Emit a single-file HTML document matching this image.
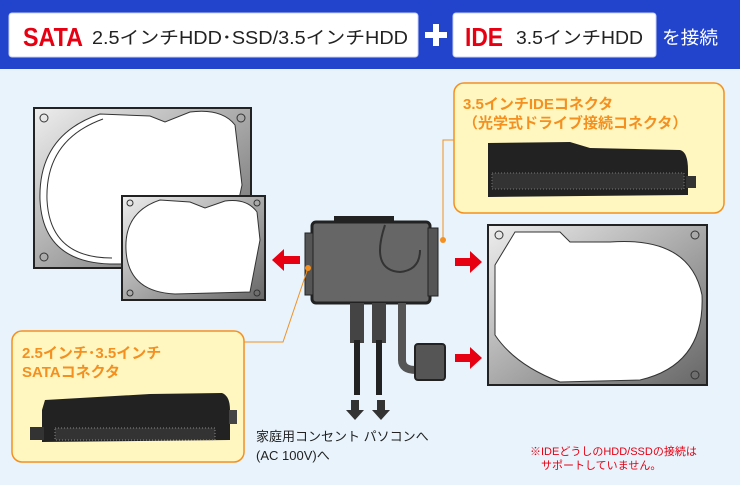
<!DOCTYPE html>
<html><head><meta charset="utf-8"><style>
body{margin:0;width:740px;height:485px;overflow:hidden;background:#e8f3fc;font-family:"Liberation Sans","Noto Sans CJK JP",sans-serif}
</style></head><body>
<svg width="740" height="485" xmlns="http://www.w3.org/2000/svg" style="display:block">
<defs>
<linearGradient id="g" x1="0" y1="0" x2="1" y2="1"><stop offset="0" stop-color="#eee"/><stop offset="0.5" stop-color="#aaa"/><stop offset="1" stop-color="#666"/></linearGradient>
</defs>
<rect x="0" y="0" width="740" height="485" fill="#e8f3fc"/>
<rect x="0" y="0" width="740" height="69" fill="#2244cc"/>
<rect x="9" y="13" width="409" height="44" rx="3" fill="#fff" stroke="#c8d0f0"/>
<text x="23" y="46" font-size="26" font-weight="bold" fill="#e60012" textLength="60" lengthAdjust="spacingAndGlyphs">SATA</text>
<text x="92" y="44" font-size="18" fill="#222" textLength="316" lengthAdjust="spacingAndGlyphs">2.5インチHDD･SSD/3.5インチHDD</text>
<rect x="425" y="32" width="22" height="6" fill="#fff"/><rect x="433" y="24" width="6" height="22" fill="#fff"/>
<rect x="453" y="13" width="203" height="44" rx="3" fill="#fff" stroke="#c8d0f0"/>
<text x="465" y="46" font-size="26" font-weight="bold" fill="#e60012" textLength="38" lengthAdjust="spacingAndGlyphs">IDE</text>
<text x="516" y="44" font-size="18" fill="#222" textLength="127" lengthAdjust="spacingAndGlyphs">3.5インチHDD</text>
<text x="662" y="44" font-size="18" fill="#fff" textLength="56" lengthAdjust="spacingAndGlyphs">を接続</text>
<!-- big HDD left -->
<rect x="34" y="108" width="217" height="160" fill="url(#g)" stroke="#222" stroke-width="2"/>
<path d="M100 114 Q38 135 40 200 Q43 262 110 264 L225 264 L242 185 L235 125 Q222 108 190 112 L165 122 L150 116 Z" fill="#fff" stroke="#333"/>
<path d="M103 119 Q45 140 47 200 Q50 258 112 258" fill="none" stroke="#333"/>
<circle cx="44" cy="118" r="4" fill="none" stroke="#333"/><circle cx="241" cy="118" r="4" fill="none" stroke="#333"/><circle cx="44" cy="257" r="4" fill="none" stroke="#333"/>
<!-- small HDD -->
<rect x="122" y="196" width="143" height="104" fill="url(#g)" stroke="#222" stroke-width="2"/>
<path d="M160 200 Q124 212 126 250 Q128 292 175 294 L250 292 L260 240 L257 212 Q247 198 225 201 L205 208 L190 202 Z" fill="#fff" stroke="#333"/>
<circle cx="130" cy="203" r="3" fill="none" stroke="#333"/><circle cx="257" cy="203" r="3" fill="none" stroke="#333"/><circle cx="130" cy="293" r="3" fill="none" stroke="#333"/><circle cx="257" cy="293" r="3" fill="none" stroke="#333"/>
<!-- right HDD -->
<rect x="488" y="225" width="219" height="160" fill="url(#g)" stroke="#222" stroke-width="2"/>
<path d="M515 232 L560 232 L570 242 L610 242 Q690 236 702 295 Q705 365 640 380 L560 382 Q515 365 495 335 L495 265 Z" fill="#fff" stroke="#333"/>
<circle cx="499" cy="235" r="4" fill="none" stroke="#333"/><circle cx="695" cy="235" r="4" fill="none" stroke="#333"/><circle cx="695" cy="375" r="4" fill="none" stroke="#333"/>
<!-- arrows -->
<polygon points="272,260 284,249 284,256 300,256 300,264 284,264 284,271" fill="#e60012"/>
<polygon points="482,262 470,251 470,258 455,258 455,266 470,266 470,273" fill="#e60012"/>
<polygon points="482,358 470,347 470,354 455,354 455,362 470,362 470,369" fill="#e60012"/>
<polygon points="355,420 346,410 351,410 351,400 359,400 359,410 364,410" fill="#333"/>
<polygon points="381,420 372,410 377,410 377,400 385,400 385,410 390,410" fill="#333"/>
<!-- adapter -->
<rect x="334" y="216" width="60" height="8" fill="#222"/>
<rect x="312" y="222" width="118" height="81" rx="4" fill="#666" stroke="#222" stroke-width="3"/>
<rect x="428" y="228" width="10" height="68" fill="#555" stroke="#222"/>
<rect x="305" y="233" width="8" height="62" fill="#555" stroke="#222"/>
<path d="M385 225 Q370 270 400 272 Q420 270 420 250" fill="none" stroke="#333" stroke-width="2"/>
<rect x="350" y="303" width="14" height="40" fill="#444"/><rect x="372" y="303" width="14" height="40" fill="#444"/>
<rect x="354" y="340" width="6" height="55" fill="#222"/><rect x="376" y="340" width="6" height="55" fill="#222"/>
<path d="M402 303 L402 360 Q402 370 416 370" fill="none" stroke="#555" stroke-width="8"/>
<rect x="415" y="344" width="30" height="36" rx="3" fill="#555" stroke="#222" stroke-width="2"/>
<!-- leader lines -->
<polyline points="443,240 443,140 455,140" fill="none" stroke="#f39020"/>
<circle cx="443" cy="240" r="3" fill="#f39020"/>
<polyline points="308,268 283,342 244,342" fill="none" stroke="#f39020"/>
<circle cx="308" cy="268" r="3" fill="#f39020"/>
<!-- yellow boxes -->
<rect x="454" y="83" width="270" height="130" rx="10" fill="#fff6c0" stroke="#f39020" stroke-width="1.5"/>
<text x="463" y="109" font-size="15" font-weight="bold" fill="#f39020">3.5インチIDEコネクタ</text>
<text x="463" y="128" font-size="15" font-weight="bold" fill="#f39020">（光学式ドライブ接続コネクタ）</text>
<path d="M488 143 L570 142 L590 148 L680 150 Q688 152 688 170 L688 195 L488 197 Z" fill="#222"/>
<rect x="492" y="173" width="192" height="16" fill="#333" stroke="#777" stroke-dasharray="1 2"/>
<rect x="686" y="176" width="10" height="12" fill="#333"/>
<rect x="12" y="331" width="232" height="131" rx="10" fill="#fff6c0" stroke="#f39020" stroke-width="1.5"/>
<text x="22" y="358" font-size="15" font-weight="bold" fill="#f39020">2.5インチ･3.5インチ</text>
<text x="22" y="377" font-size="15" font-weight="bold" fill="#f39020">SATAコネクタ</text>
<path d="M45 400 L150 394 L222 393 Q230 396 230 410 L230 440 L42 442 L42 410 Z" fill="#222"/>
<rect x="55" y="428" width="160" height="12" fill="#333" stroke="#888" stroke-dasharray="1 2"/>
<rect x="30" y="427" width="14" height="13" fill="#333"/><rect x="229" y="410" width="8" height="14" fill="#444"/>
<!-- texts -->
<text x="256" y="441" font-size="13" fill="#222">家庭用コンセント パソコンへ</text>
<text x="256" y="460" font-size="13" fill="#222">(AC 100V)へ</text>
<text x="530" y="455" font-size="11" fill="#e60012">※IDEどうしのHDD/SSDの接続は</text>
<text x="541" y="469" font-size="11" fill="#e60012">サポートしていません。</text>
</svg>
</body></html>
